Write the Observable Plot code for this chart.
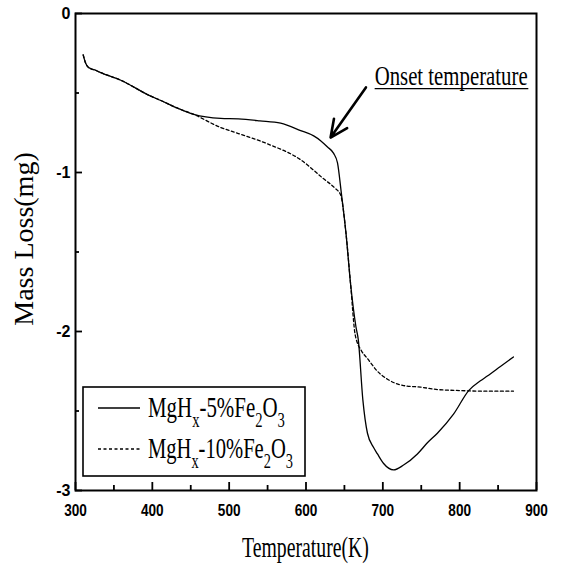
<!DOCTYPE html>
<html>
<head>
<meta charset="utf-8">
<script src="https://cdn.jsdelivr.net/npm/d3@7"></script>
<script src="https://cdn.jsdelivr.net/npm/@observablehq/plot@0.6"></script>
<style>
  body { margin: 0; background: #fff; }
  #chart svg { display: block; background: #fff; }
</style>
</head>
<body>
<div id="chart"></div>
<script>
// ---- data ----
const temp5 = [310, 313, 317, 325, 332, 359, 398, 411, 430, 454, 489, 512, 540, 567, 593, 610, 619, 628, 636, 641, 646, 652, 658, 665, 668, 674, 680, 688, 693, 701, 714, 727, 745, 758, 771, 792, 812, 827, 836, 853, 870];
const mass5 = [-0.26, -0.31, -0.34, -0.355, -0.37, -0.42, -0.52, -0.547, -0.59, -0.635, -0.66, -0.663, -0.675, -0.69, -0.736, -0.77, -0.80, -0.84, -0.88, -0.94, -1.13, -1.38, -1.70, -1.97, -2.05, -2.43, -2.64, -2.73, -2.77, -2.83, -2.87, -2.84, -2.77, -2.70, -2.64, -2.52, -2.37, -2.31, -2.28, -2.22, -2.16];

const temp10 = [310, 313, 317, 325, 332, 359, 398, 411, 430, 454, 489, 512, 550, 593, 623, 638, 645, 652, 658, 664, 672, 680, 693, 706, 727, 749, 771, 792, 830, 870];
const mass10 = [-0.26, -0.31, -0.34, -0.355, -0.37, -0.42, -0.52, -0.547, -0.59, -0.635, -0.717, -0.755, -0.82, -0.92, -1.04, -1.10, -1.14, -1.38, -1.70, -2.02, -2.12, -2.17, -2.25, -2.30, -2.34, -2.35, -2.365, -2.37, -2.375, -2.375];

const seriesNames = ["MgHx-5%Fe2O3", "MgHx-10%Fe2O3"];
const xMajor = [300, 400, 500, 600, 700, 800, 900];
const xMinor = [350, 450, 550, 650, 750, 850];
const yMajor = [0, -1, -2, -3];
const yMinor = [-0.5, -1.5, -2.5];
const xTitle = "Temperature(K)";
const yTitle = "Mass Loss(mg)";
const onsetLabel = "Onset temperature";
const onsetArrow = [{x1: 678, y1: -0.465, x2: 632, y2: -0.78}];
const onsetText = {x: 690, y: -0.453, label: onsetLabel};
const onsetUnderline = [{y: -0.472, x1: 690, x2: 890}];

const s5 = temp5.map((t, i) => ({T: t, m: mass5[i]}));
const s10 = temp10.map((t, i) => ({T: t, m: mass10[i]}));

const serif = "'Liberation Serif', 'Times New Roman', serif";
const sans = "'Liberation Sans', Arial, sans-serif";

const plot = Plot.plot({
  width: 564,
  height: 565,
  marginLeft: 75,
  marginRight: 28,
  marginTop: 13,
  marginBottom: 75,
  x: {domain: [300, 900]},
  y: {domain: [-3, 0]},
  style: {background: "#fff", color: "#000"},
  marks: [
    Plot.line(s10, {x: "T", y: "m", stroke: "#000", strokeWidth: 1.3, strokeDasharray: "3,2.5", curve: "monotone-x"}),
    Plot.line(s5, {x: "T", y: "m", stroke: "#000", strokeWidth: 1.3, curve: "monotone-x"}),
    // x axis: labels, major ticks, minor ticks (inward)
    Plot.axisX({ticks: xMajor, tickSize: 0, tickPadding: 14, tickFormat: d => String(d), fontSize: 16, fontFamily: sans, fontWeight: "bold", label: null}),
    Plot.axisX({ticks: xMajor, tickSize: -8, tickFormat: () => "", strokeWidth: 1.8, label: null}),
    Plot.axisX({ticks: xMinor, tickSize: -5, tickFormat: () => "", strokeWidth: 1.8, label: null}),
    // y axis
    Plot.axisY({ticks: yMajor, tickSize: 0, tickPadding: 5, tickFormat: d => String(d), fontSize: 16, fontFamily: sans, fontWeight: "bold", label: null}),
    Plot.axisY({ticks: yMajor, tickSize: -7, tickFormat: () => "", strokeWidth: 1.8, label: null}),
    Plot.axisY({ticks: yMinor, tickSize: -4, tickFormat: () => "", strokeWidth: 1.8, label: null}),
    Plot.frame({stroke: "#000", strokeWidth: 2}),
    // annotation arrow + underline
    Plot.arrow(onsetArrow, {x1: "x1", y1: "y1", x2: "x2", y2: "y2", stroke: "#000", strokeWidth: 2.6, headLength: 11, headAngle: 50}),
    Plot.ruleY(onsetUnderline, {y: "y", x1: "x1", x2: "x2", stroke: "#000", strokeWidth: 1.2}),
    // y title
    Plot.text([yTitle], {frameAnchor: "left", textAnchor: "middle", dx: -51, dy: -13, rotate: -90, text: d => d, fontSize: 28, fontFamily: serif, fill: "#000", lineAnchor: "middle"})
  ]
});

document.getElementById("chart").appendChild(plot);

const svg = d3.select(plot);
const xs = plot.scale("x"), ys = plot.scale("y");

// condense x tick labels horizontally (scanned reference is narrow)
const xLabelStrings = xMajor.map(String);
svg.selectAll("text").each(function () {
  if (!xLabelStrings.includes(this.textContent)) return;
  const x = +this.getAttribute("x") || 0;
  const tr = this.getAttribute("transform") || "";
  this.setAttribute("transform", `${tr} translate(${x},0) scale(0.85,1) translate(${-x},0)`);
});

// helper: horizontally condensed text fitted to a target width
function condensed(parent, x, y, anchor, parts, fontSize, width) {
  const g = parent.append("g");
  const t = g.append("text").attr("font-family", serif).attr("font-size", fontSize)
    .attr("fill", "#000").attr("text-anchor", "start");
  let prevSub = 0;
  parts.forEach(([s, sub]) => {
    const ts = t.append("tspan").text(s);
    if (sub && !prevSub) ts.attr("dy", fontSize * 0.33).attr("font-size", fontSize * 0.7);
    else if (!sub && prevSub) ts.attr("dy", -fontSize * 0.33);
    prevSub = sub;
  });
  const natural = t.node().getComputedTextLength();
  const k = width / natural;
  const x0 = anchor === "middle" ? x - width / 2 : x;
  g.attr("transform", `translate(${x0},${y}) scale(${k},1)`);
  return g;
}

// onset annotation text
condensed(svg, xs.apply(onsetText.x), ys.apply(onsetText.y), "start", [[onsetText.label, 0]], 28, 153);

// x title
condensed(svg, (xs.apply(300) + xs.apply(900)) / 2, 557, "middle", [[xTitle, 0]], 29, 127);

// legend
const lg = svg.append("g").attr("class", "legend");
lg.append("rect").attr("x", 83).attr("y", 387).attr("width", 222).attr("height", 89)
  .attr("fill", "#fff").attr("stroke", "#000").attr("stroke-width", 1.6);
const legendItems = [
  {name: seriesNames[0], dash: null, y: 408, parts: [["MgH", 0], ["x", 1], ["-5%Fe", 0], ["2", 1], ["O", 0], ["3", 1]], len: 137},
  {name: seriesNames[1], dash: "3,2.5", y: 449, parts: [["MgH", 0], ["x", 1], ["-10%Fe", 0], ["2", 1], ["O", 0], ["3", 1]], len: 145}
];
legendItems.forEach(it => {
  const ln = lg.append("line").attr("x1", 98).attr("x2", 140).attr("y1", it.y).attr("y2", it.y)
    .attr("stroke", "#000").attr("stroke-width", 1.3);
  if (it.dash) ln.attr("stroke-dasharray", it.dash);
  condensed(lg, 148, it.y + 9, "start", it.parts, 29, it.len);
});
</script>
</body>
</html>
